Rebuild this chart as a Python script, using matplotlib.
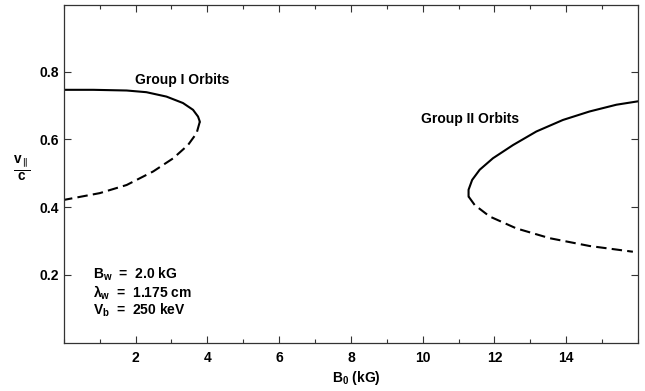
import matplotlib
matplotlib.use("Agg")
import matplotlib.pyplot as plt
from matplotlib.ticker import MultipleLocator

plt.rcParams["font.family"] = ["Liberation Sans", "DejaVu Sans"]
plt.rcParams["font.weight"] = "bold"
plt.rcParams["axes.labelweight"] = "bold"
plt.rcParams["mathtext.fontset"] = "custom"
plt.rcParams["mathtext.rm"] = "Liberation Sans:bold"
plt.rcParams["mathtext.it"] = "Liberation Sans:bold"
plt.rcParams["mathtext.bf"] = "Liberation Sans:bold"

# Group I orbits: upper (solid) and lower (dashed) branches, B0 in kG vs v_par/c
g1_solid_b = [0.0, 0.82, 1.75, 2.30, 2.86, 3.32, 3.60, 3.74, 3.79]
g1_solid_v = [0.746, 0.746, 0.744, 0.739, 0.726, 0.707, 0.687, 0.667, 0.652]
g1_dash_b = [3.79, 3.70, 3.46, 3.05, 2.49, 1.75, 1.0, 0.0]
g1_dash_v = [0.652, 0.618, 0.583, 0.544, 0.505, 0.465, 0.441, 0.421]

# Group II orbits
g2_solid_b = [11.28, 11.28, 11.38, 11.59, 11.96, 12.52, 13.17, 13.91, 14.65, 15.40, 16.0]
g2_solid_v = [0.431, 0.451, 0.480, 0.510, 0.544, 0.583, 0.623, 0.657, 0.682, 0.702, 0.712]
g2_dash_b = [11.28, 11.45, 11.87, 12.61, 13.54, 14.65, 15.86]
g2_dash_v = [0.431, 0.406, 0.372, 0.337, 0.308, 0.285, 0.268]

x_ticks = [2, 4, 6, 8, 10, 12, 14]
y_ticks = [0.2, 0.4, 0.6, 0.8]

fig = plt.figure(figsize=(6.45, 3.91), dpi=100)
ax = fig.add_axes([0.099, 0.124, 0.890, 0.862])

dash = (0, (5, 2.5))
line_kw = dict(color="black", lw=1.5, solid_joinstyle="round", solid_capstyle="round")
ax.plot(g1_solid_b, g1_solid_v, **line_kw)
ax.plot(g1_dash_b, g1_dash_v, linestyle=dash, **line_kw)
ax.plot(g2_solid_b, g2_solid_v, **line_kw)
ax.plot(g2_dash_b, g2_dash_v, linestyle=dash, **line_kw)

ax.text(1.98, 0.775, "Group I Orbits", fontsize=10, va="center")
ax.text(9.96, 0.659, "Group II Orbits", fontsize=10, va="center")

ax.text(0.8, 0.200, "B$_\\mathrm{w}$  =  2.0 kG", fontsize=10, va="center")
ax.text(0.8, 0.147, "λ$_\\mathrm{w}$  =  1.175 cm", fontsize=10, va="center")
ax.text(0.8, 0.094, "V$_\\mathrm{b}$  =  250 keV", fontsize=10, va="center")

ax.set_xlim(0, 16)
ax.set_ylim(0, 0.995)
ax.set_xticks(x_ticks)
ax.xaxis.set_minor_locator(MultipleLocator(1))
ax.set_yticks(y_ticks)
ax.tick_params(which="both", direction="in", top=True, right=True,
               labelsize=10, width=0.8, color="#333333")
ax.tick_params(which="major", length=5)
ax.tick_params(which="minor", length=3)
ax.tick_params(axis="x", pad=6)
for s in ax.spines.values():
    s.set_linewidth(0.9)
    s.set_color("#333333")

ax.set_xlabel("B$_\\mathrm{0}$ (kG)", fontsize=10, va="center")
ax.xaxis.set_label_coords(0.51, -0.106)
ax.set_ylabel("$\\frac{v_{\\parallel}}{c}$", fontsize=14, rotation=0,
              va="center", ha="center")
ax.yaxis.set_label_coords(-0.073, 0.515)

fig.savefig("out.png", dpi=100)
